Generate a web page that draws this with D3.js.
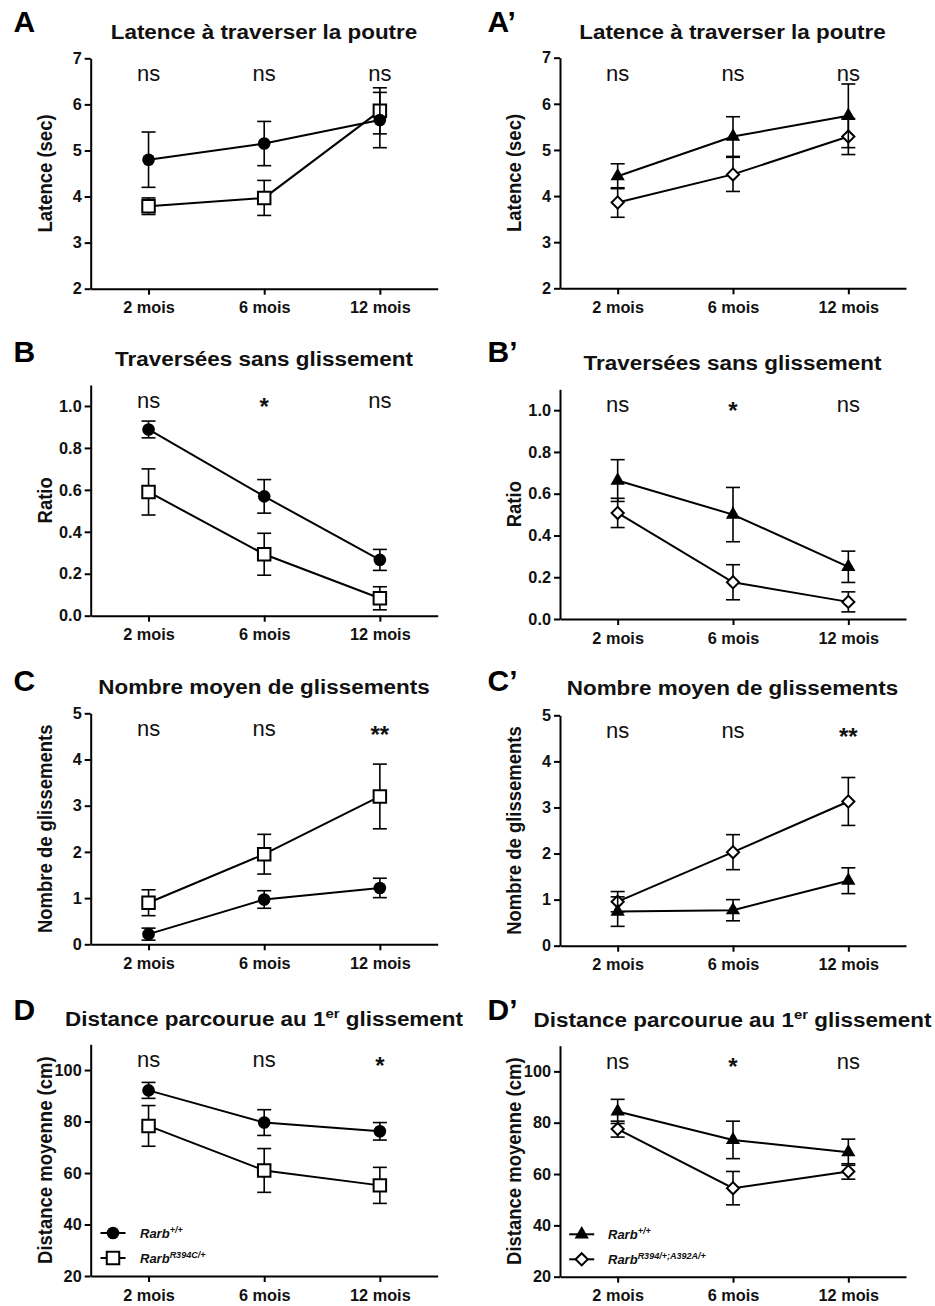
<!DOCTYPE html>
<html>
<head>
<meta charset="utf-8">
<script src="https://cdn.jsdelivr.net/npm/d3@7"></script>
<style>
  body { margin: 0; background: #fff; }
  svg { display: block; font-family: "Liberation Sans", Arial, sans-serif; }
</style>
</head>
<body>
<div id="chart"></div>
<script>
// categories
const mois = ["2 mois", "6 mois", "12 mois"];

// A - latence (sec)
const latWT = [4.80, 5.15, 5.66];
const latWTsem = [0.60, 0.48, 0.60];
const latR394C = [3.79, 3.97, 5.86];
const latR394Csem = [0.18, 0.38, 0.50];
// A'
const latWT2 = [4.43, 5.29, 5.74];
const latWT2sem = [0.27, 0.43, 0.69];
const latR394 = [3.86, 4.47, 5.29];
const latR394sem = [0.32, 0.37, 0.39];

// B - ratio
const ratioWT = [0.888, 0.569, 0.266];
const ratioWTsem = [0.04, 0.08, 0.05];
const ratioR394C = [0.59, 0.293, 0.083];
const ratioR394Csem = [0.11, 0.10, 0.055];
// B'
const ratioWT2 = [0.663, 0.50, 0.25];
const ratioWT2sem = [0.10, 0.13, 0.075];
const ratioR394 = [0.508, 0.176, 0.082];
const ratioR394sem = [0.07, 0.084, 0.048];

// C - nombre de glissements
const glisWT = [0.22, 0.97, 1.22];
const glisWTsem = [0.13, 0.19, 0.21];
const glisR394C = [0.90, 1.95, 3.20];
const glisR394Csem = [0.28, 0.43, 0.70];
// C'
const glisWT2 = [0.74, 0.77, 1.41];
const glisWT2sem = [0.32, 0.23, 0.28];
const glisR394 = [0.955, 2.03, 3.13];
const glisR394sem = [0.22, 0.38, 0.52];

// D - distance moyenne (cm)
const distWT = [92.1, 79.6, 76.2];
const distWTsem = [3.1, 5.0, 3.4];
const distR394C = [78.3, 61.0, 55.2];
const distR394Csem = [7.9, 8.5, 7.0];
// D'
const distWT2 = [84.4, 73.3, 68.5];
const distWT2sem = [4.7, 7.3, 5.1];
const distR394 = [77.5, 54.5, 61.0];
const distR394sem = [3.1, 6.5, 3.0];

// significance
const sigA = ["ns", "ns", "ns"];
const sigA2 = ["ns", "ns", "ns"];
const sigB = ["ns", "*", "ns"];
const sigB2 = ["ns", "*", "ns"];
const sigC = ["ns", "ns", "**"];
const sigC2 = ["ns", "ns", "**"];
const sigD = ["ns", "ns", "*"];
const sigD2 = ["ns", "*", "ns"];

// y ticks
const ticksLat = [2, 3, 4, 5, 6, 7];
const ticksRatio = [0, 0.2, 0.4, 0.6, 0.8, 1.0];
const ticksGlis = [0, 1, 2, 3, 4, 5];
const ticksDist = [20, 40, 60, 80, 100];

// legends
const legendLeft = [["Rarb", "+/+"], ["Rarb", "R394C/+"]];
const legendRight = [["Rarb", "+/+"], ["Rarb", "R394/+;A392A/+"]];

const W = 935, H = 1306;
const ink = "#111";

const svg = d3.select("#chart").append("svg")
    .attr("width", W)
    .attr("height", H);

const cols = [
  {x0: 90.7, x1: 437.7, letterX: 13.5, titleX: 264, filled: "circle", open: "square", legendX: 113, legendTextX: 140},
  {x0: 560, x1: 906, letterX: 487.5, titleX: 732.5, filled: "triangle", open: "diamond", legendX: 581.7, legendTextX: 608}
];

const fmtInt = d3.format("d");
const fmt1 = d3.format(".1f");

const panels = [
  {letter: "A", col: 0, top: 58.3, bottom: 288.7, domain: [2, 7], ticks: ticksLat, fmt: fmtInt, titleY: 39, letterY: 31.7,
   title: ["Latence à traverser la poutre"], ylabel: "Latence (sec)", wt: latWT, wtSem: latWTsem, mut: latR394C, mutSem: latR394Csem, sig: sigA},
  {letter: "A\u2019", col: 1, top: 57.7, bottom: 288.3, domain: [2, 7], ticks: ticksLat, fmt: fmtInt, titleY: 39, letterY: 32,
   title: ["Latence à traverser la poutre"], ylabel: "Latence (sec)", wt: latWT2, wtSem: latWT2sem, mut: latR394, mutSem: latR394sem, sig: sigA2},
  {letter: "B", col: 0, top: 385, bottom: 615.7, domain: [0, 1.1], ticks: ticksRatio, fmt: fmt1, titleY: 366, letterY: 362.3,
   title: ["Traversées sans glissement"], ylabel: "Ratio", wt: ratioWT, wtSem: ratioWTsem, mut: ratioR394C, mutSem: ratioR394Csem, sig: sigB},
  {letter: "B\u2019", col: 1, top: 389.3, bottom: 619, domain: [0, 1.1], ticks: ticksRatio, fmt: fmt1, titleY: 370, letterY: 362,
   title: ["Traversées sans glissement"], ylabel: "Ratio", wt: ratioWT2, wtSem: ratioWT2sem, mut: ratioR394, mutSem: ratioR394sem, sig: sigB2},
  {letter: "C", col: 0, top: 713.3, bottom: 944.3, domain: [0, 5], ticks: ticksGlis, fmt: fmtInt, titleY: 694, letterY: 690.7,
   title: ["Nombre moyen de glissements"], ylabel: "Nombre de glissements", wt: glisWT, wtSem: glisWTsem, mut: glisR394C, mutSem: glisR394Csem, sig: sigC},
  {letter: "C\u2019", col: 1, top: 715.3, bottom: 945.7, domain: [0, 5], ticks: ticksGlis, fmt: fmtInt, titleY: 695, letterY: 690.7,
   title: ["Nombre moyen de glissements"], ylabel: "Nombre de glissements", wt: glisWT2, wtSem: glisWT2sem, mut: glisR394, mutSem: glisR394sem, sig: sigC2},
  {letter: "D", col: 0, top: 1044.3, bottom: 1276, domain: [20, 110], ticks: ticksDist, fmt: fmtInt, titleY: 1026, letterY: 1020,
   title: ["Distance parcourue au 1", "er", " glissement"], ylabel: "Distance moyenne (cm)", wt: distWT, wtSem: distWTsem, mut: distR394C, mutSem: distR394Csem, sig: sigD,
   legend: legendLeft, legendY: [1233, 1258]},
  {letter: "D\u2019", col: 1, top: 1045.7, bottom: 1276.7, domain: [20, 110], ticks: ticksDist, fmt: fmtInt, titleY: 1027, letterY: 1020,
   title: ["Distance parcourue au 1", "er", " glissement"], ylabel: "Distance moyenne (cm)", wt: distWT2, wtSem: distWT2sem, mut: distR394, mutSem: distR394sem, sig: sigD2,
   legend: legendRight, legendY: [1234.3, 1259.3]}
];

// marker shapes
function drawMarker(sel, kind, cx, cy) {
  if (kind === "circle") {
    sel.append("circle").attr("cx", cx).attr("cy", cy).attr("r", 6.3).attr("fill", "#000");
  } else if (kind === "square") {
    sel.append("path").attr("d", d3.symbol(d3.symbolSquare, 156)())
      .attr("transform", `translate(${cx},${cy})`)
      .attr("fill", "#fff").attr("stroke", "#000").attr("stroke-width", 2);
  } else if (kind === "triangle") {
    sel.append("path").attr("d", d3.symbol(d3.symbolTriangle, 88)())
      .attr("transform", `translate(${cx},${cy})`)
      .attr("fill", "#000");
  } else {
    sel.append("path").attr("d", d3.symbol(d3.symbolSquare, 74)())
      .attr("transform", `translate(${cx},${cy}) rotate(45)`)
      .attr("fill", "#fff").attr("stroke", "#000").attr("stroke-width", 2);
  }
}

function styleAxis(g) {
  g.attr("font-family", null).attr("font-size", null);
  g.select(".domain").attr("stroke", "#000").attr("stroke-width", 2);
  g.selectAll(".tick line").attr("stroke", "#000").attr("stroke-width", 2);
  g.selectAll(".tick text")
    .attr("fill", ink)
    .style("font-size", "16.3px")
    .style("font-weight", "bold");
}

function drawSeries(g, x, y, vals, sems, kind) {
  const errs = g.append("g").attr("stroke", "#000").attr("stroke-width", 1.6);
  vals.forEach((v, i) => {
    const cx = x(mois[i]);
    const yTop = y(v + sems[i]), yBot = y(v - sems[i]);
    errs.append("line").attr("x1", cx).attr("x2", cx).attr("y1", yTop).attr("y2", yBot);
    errs.append("line").attr("x1", cx - 7).attr("x2", cx + 7).attr("y1", yTop).attr("y2", yTop);
    errs.append("line").attr("x1", cx - 7).attr("x2", cx + 7).attr("y1", yBot).attr("y2", yBot);
  });

  const line = d3.line()
      .x((d, i) => x(mois[i]))
      .y(d => y(d));

  g.append("path")
    .datum(vals)
    .attr("d", line)
    .attr("fill", "none")
    .attr("stroke", "#000")
    .attr("stroke-width", 2);

  const marks = g.append("g");
  vals.forEach((v, i) => drawMarker(marks, kind, x(mois[i]), y(v)));
}

function drawPanel(p) {
  const col = cols[p.col];
  const x = d3.scalePoint().domain(mois).range([col.x0, col.x1]).padding(0.5);
  const y = d3.scaleLinear().domain(p.domain).range([p.bottom, p.top]);
  const g = svg.append("g");

  // panel letter
  g.append("text")
    .attr("x", col.letterX)
    .attr("y", p.letterY)
    .attr("fill", "#000")
    .style("font-size", "30px")
    .style("font-weight", "bold")
    .text(p.letter);

  // title (stretched a bit wider like the original)
  const title = g.append("text")
    .attr("transform", `translate(${col.titleX},${p.titleY}) scale(1.145,1)`)
    .attr("text-anchor", "middle")
    .attr("fill", ink)
    .style("font-size", "19.6px")
    .style("font-weight", "bold");
  if (p.title.length === 1) {
    title.text(p.title[0]);
  } else {
    title.append("tspan").text(p.title[0]);
    title.append("tspan").attr("dy", -8).style("font-size", "13px").text(p.title[1]);
    title.append("tspan").attr("dy", 8).text(p.title[2]);
  }

  // axes
  g.append("g")
    .attr("transform", `translate(0,${p.bottom})`)
    .call(d3.axisBottom(x).tickSize(6).tickSizeOuter(0).tickPadding(7))
    .call(styleAxis);

  g.append("g")
    .attr("transform", `translate(${col.x0},0)`)
    .call(d3.axisLeft(y).tickValues(p.ticks).tickFormat(p.fmt).tickSize(6).tickSizeOuter(0).tickPadding(3))
    .call(styleAxis);

  // y label
  g.append("text")
    .attr("transform", `translate(${col.x0 - 46.5},${(p.top + p.bottom) / 2}) scale(1.12,1) rotate(-90)`)
    .attr("text-anchor", "middle")
    .attr("dominant-baseline", "central")
    .attr("fill", ink)
    .style("font-size", "18.5px")
    .style("font-weight", "bold")
    .text(p.ylabel);

  // significance marks
  p.sig.forEach((s, i) => {
    const t = g.append("text")
      .attr("x", x(mois[i]))
      .attr("y", p.top + 23)
      .attr("text-anchor", "middle")
      .attr("fill", ink);
    if (s === "ns") {
      t.style("font-size", "22px").text(s);
    } else {
      t.attr("dy", 6.5).style("font-size", "24px").style("font-weight", "bold").text(s);
    }
  });

  // data: open series first, filled one on top
  drawSeries(g, x, y, p.mut, p.mutSem, col.open);
  drawSeries(g, x, y, p.wt, p.wtSem, col.filled);

  // legend
  if (p.legend) {
    const kinds = [col.filled, col.open];
    p.legend.forEach((lab, i) => {
      const ly = p.legendY[i];
      g.append("line")
        .attr("x1", col.legendX - 12.5).attr("x2", col.legendX + 12.5)
        .attr("y1", ly).attr("y2", ly)
        .attr("stroke", "#000").attr("stroke-width", 2);
      drawMarker(g, kinds[i], col.legendX, ly);
      const t = g.append("text")
        .attr("x", col.legendTextX)
        .attr("y", ly + 4.7)
        .attr("fill", ink)
        .style("font-size", "13px")
        .style("font-weight", "bold")
        .style("font-style", "italic");
      t.append("tspan").text(lab[0]);
      t.append("tspan").attr("dy", -5).style("font-size", "9px").text(lab[1]);
    });
  }
}

panels.forEach(drawPanel);
</script>
</body>
</html>
